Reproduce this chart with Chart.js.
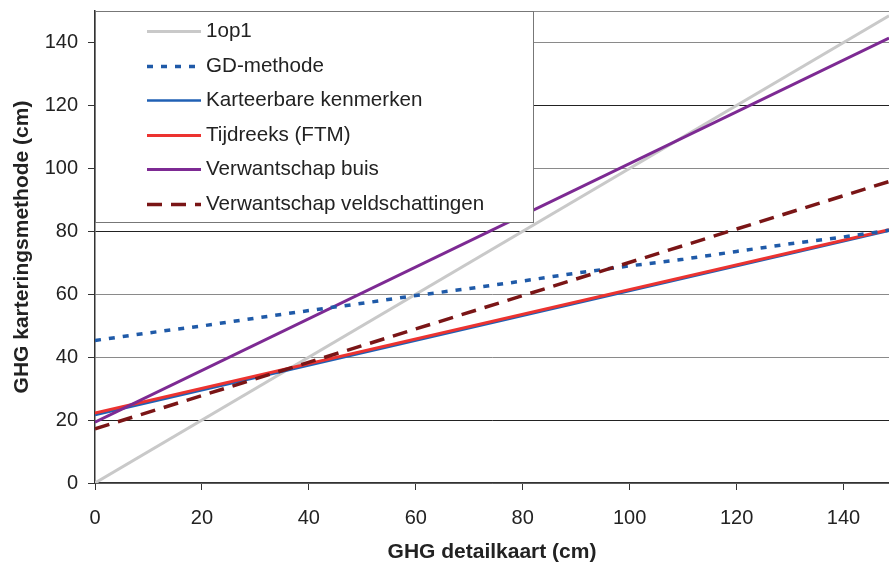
<!DOCTYPE html>
<html>
<head>
<meta charset="utf-8">
<script src="https://cdn.jsdelivr.net/npm/chart.js@4/dist/chart.umd.min.js"></script>
<style>
    body { margin: 0; background: #fff; }
    #wrap { width: 889px; height: 565px; position: relative; }
</style>
</head>
<body>
<div id="wrap"><canvas id="ghgChart"></canvas></div>
<script>
// data
var xEnds = [0, 148.5];
var oneToOne = [0, 148.5];
var karteerbaar = [21.6, 80.2];
var tijdreeks = [22.2, 80.5];
var verwBuis = [19.3, 141.4];
var verwVeld = [17.2, 95.8];

var gdX = [0, 10, 20, 30, 40, 50, 60, 70, 80, 90, 100, 110, 120, 130, 140, 148.5];
var gdY = [45.3, 47.7, 49.9, 52.4, 54.8, 57.1, 59.6, 61.8, 64.2, 66.7, 69.0, 71.1, 73.6, 76.0, 78.2, 80.3];

var xTicks = [0, 20, 40, 60, 80, 100, 120, 140];
var yTicks = [0, 20, 40, 60, 80, 100, 120, 140];

var labels = ['1op1', 'GD-methode', 'Karteerbare kenmerken', 'Tijdreeks (FTM)', 'Verwantschap buis', 'Verwantschap veldschattingen'];

function pairs(xs, ys) {
    return xs.map(function (x, i) { return { x: x, y: ys[i] }; });
}

var FONT = '"Liberation Sans", Arial, Helvetica, sans-serif';

// legend box drawn over the plot, like the original
var boxLegend = {
    id: 'boxLegend',
    afterDraw: function (chart) {
        var ctx = chart.ctx;
        var left = chart.chartArea.left;
        var top = 11, right = 533, bottom = 222;
        ctx.save();
        ctx.fillStyle = '#fff';
        ctx.fillRect(left, top, right - left, bottom - top);
        ctx.strokeStyle = '#777';
        ctx.lineWidth = 1;
        ctx.strokeRect(left + 0.5, top + 0.5, right - left, bottom - top);

        var rowY = 31, rowH = 34.6;
        chart.data.datasets.forEach(function (ds, i) {
            var y = Math.round(rowY + i * rowH) + 0.5;
            ctx.beginPath();
            ctx.strokeStyle = ds.borderColor;
            ctx.lineWidth = ds.borderWidth;
            ctx.setLineDash(ds.borderDash || []);
            ctx.moveTo(147, y);
            ctx.lineTo(201, y);
            ctx.stroke();
            ctx.setLineDash([]);
            ctx.fillStyle = '#222';
            ctx.font = '20.6px ' + FONT;
            ctx.textBaseline = 'middle';
            ctx.fillText(ds.label, 206, y);
        });
        ctx.restore();
    }
};

var ctx = document.getElementById('ghgChart');

new Chart(ctx, {
    type: 'line',
    data: {
        datasets: [{
            label: labels[0],
            data: pairs(xEnds, oneToOne),
            borderColor: '#c9c9c9',
            borderWidth: 3,
            order: 6
        }, {
            label: labels[1],
            data: pairs(gdX, gdY),
            borderColor: '#1f5aa8',
            borderWidth: 3.5,
            borderDash: [6, 8],
            order: 2
        }, {
            label: labels[2],
            data: pairs(xEnds, karteerbaar),
            borderColor: '#2060b4',
            borderWidth: 2.5,
            order: 5
        }, {
            label: labels[3],
            data: pairs(xEnds, tijdreeks),
            borderColor: '#ec3330',
            borderWidth: 3,
            order: 4
        }, {
            label: labels[4],
            data: pairs(xEnds, verwBuis),
            borderColor: '#7d2a93',
            borderWidth: 3,
            order: 3
        }, {
            label: labels[5],
            data: pairs(xEnds, verwVeld),
            borderColor: '#7a1516',
            borderWidth: 3.5,
            borderDash: [15, 9],
            order: 1
        }]
    },
    options: {
        responsive: true,
        maintainAspectRatio: false,
        animation: false,
        layout: {
            padding: { top: 11, right: 0, left: 0, bottom: 0 }
        },
        elements: {
            point: { radius: 0 },
            line: { tension: 0, borderCapStyle: 'butt' }
        },
        plugins: {
            legend: { display: false },
            tooltip: { enabled: false }
        },
        scales: {
            x: {
                type: 'linear',
                min: 0,
                max: 148.5,
                afterBuildTicks: function (scale) {
                    scale.ticks = xTicks.map(function (v) { return { value: v }; });
                },
                afterFit: function (scale) {
                    scale.height = 82;
                    scale.paddingLeft = 0;
                    scale.paddingRight = 0;
                },
                ticks: {
                    color: '#222',
                    font: { family: FONT, size: 20 },
                    padding: 16,
                    maxRotation: 0
                },
                grid: {
                    drawOnChartArea: false,
                    tickLength: 7,
                    tickColor: '#333'
                },
                border: { color: '#333', width: 1.5 },
                title: {
                    display: true,
                    text: 'GHG detailkaart (cm)',
                    color: '#222',
                    font: { family: FONT, size: 21, weight: 'bold' },
                    padding: { top: 0, bottom: 0 }
                }
            },
            y: {
                min: 0,
                max: 150,
                afterBuildTicks: function (scale) {
                    scale.ticks = yTicks.concat([150]).map(function (v) { return { value: v }; });
                },
                afterFit: function (scale) {
                    scale.width = 95;
                    scale.paddingTop = 0;
                    scale.paddingBottom = 0;
                },
                ticks: {
                    color: '#222',
                    font: { family: FONT, size: 20 },
                    padding: 10,
                    callback: function (v) { return v === 150 ? '' : v; }
                },
                grid: {
                    tickLength: 7,
                    color: function (c) {
                        var v = c.tick ? c.tick.value : null;
                        if (v === 20 || v === 80 || v === 120) return '#222';
                        return '#8a8a8a';
                    },
                    tickColor: function (c) {
                        return c.tick && c.tick.value === 150 ? 'rgba(0,0,0,0)' : '#333';
                    }
                },
                border: { color: '#333', width: 1.5 },
                title: {
                    display: true,
                    text: 'GHG karteringsmethode (cm)',
                    color: '#222',
                    font: { family: FONT, size: 21, weight: 'bold' },
                    padding: { top: 10, bottom: 0 }
                }
            }
        }
    },
    plugins: [boxLegend]
});
</script>
</body>
</html>
